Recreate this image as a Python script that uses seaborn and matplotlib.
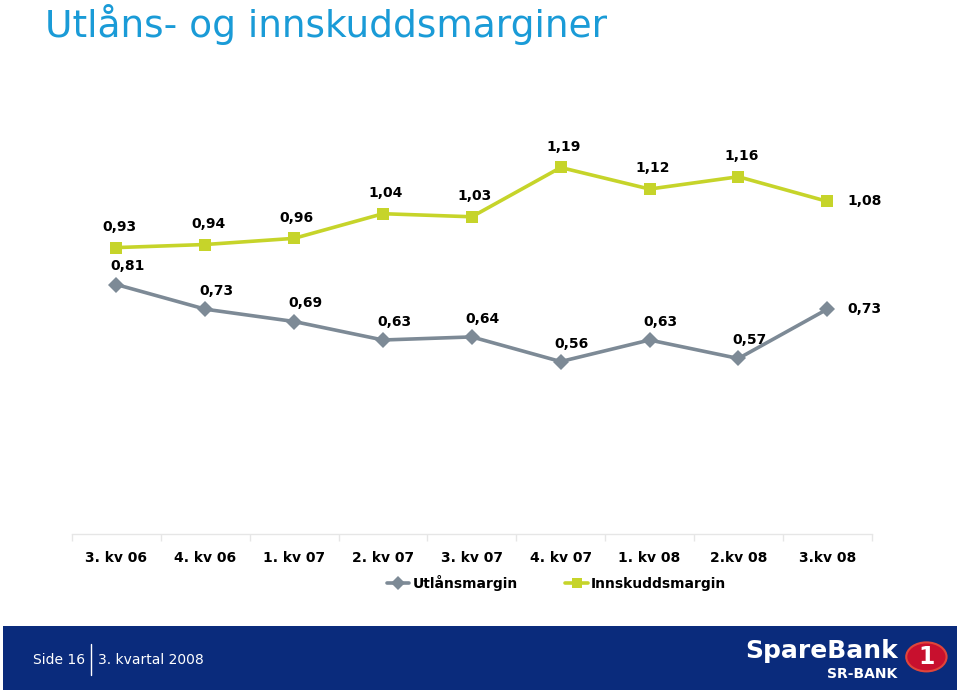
import matplotlib
matplotlib.use('Agg')
import matplotlib.pyplot as plt
import seaborn as sns
import pandas as pd
from matplotlib.patches import Rectangle, Circle
from matplotlib.lines import Line2D

# data
quarters = ['3. kv 06', '4. kv 06', '1. kv 07', '2. kv 07', '3. kv 07',
            '4. kv 07', '1. kv 08', '2.kv 08', '3.kv 08']
utlan = [0.81, 0.73, 0.69, 0.63, 0.64, 0.56, 0.63, 0.57, 0.73]
innskudd = [0.93, 0.94, 0.96, 1.04, 1.03, 1.19, 1.12, 1.16, 1.08]
series_names = ['Utlånsmargin', 'Innskuddsmargin']

gray = '#7d8a96'
lime = '#c6d42a'
navy = '#0a2b7c'
title_blue = '#1a9bd7'

df = pd.DataFrame({
    'kvartal': quarters * 2,
    'pos': list(range(len(quarters))) * 2,
    'margin': utlan + innskudd,
    'serie': [series_names[0]] * len(quarters) + [series_names[1]] * len(quarters),
})

sns.set_theme(style='white')
plt.rcParams['font.family'] = ['DejaVu Sans']
plt.rcParams['text.color'] = 'black'

fig = plt.figure(figsize=(9.6, 6.9), dpi=100)
ax = fig.add_axes([0.075, 0.226, 0.833, 0.625])

sns.lineplot(data=df, x='pos', y='margin', hue='serie', style='serie',
             palette=[gray, lime], markers=['D', 's'], dashes=False,
             markersize=8, markeredgewidth=0, linewidth=2.6, legend=False, ax=ax)

ax.set_xlim(-0.5, len(quarters) - 0.5)
ax.set_ylim(0, 1.4)
ax.set_xlabel('')
ax.set_ylabel('')
ax.set_yticks([])
ax.set_xticks(range(len(quarters)))
ax.set_xticklabels(quarters, fontsize=10, fontweight='bold', color='black')
ax.set_xticks([i - 0.5 for i in range(len(quarters) + 1)], minor=True)
ax.tick_params(axis='x', which='major', length=0, pad=12)
ax.tick_params(axis='x', which='minor', length=5, color='#e6e6e6', width=1, bottom=True)
for side in ['top', 'right', 'left']:
    ax.spines[side].set_visible(False)
ax.spines['bottom'].set_color('#e6e6e6')
ax.spines['bottom'].set_linewidth(1)

# value labels
def fmt(v):
    return f'{v:.2f}'.replace('.', ',')

n = len(quarters)
for i, v in enumerate(innskudd):
    off = (27, 0) if i == n - 1 else (2, 15)
    ax.annotate(fmt(v), (i, v), xytext=off, textcoords='offset points',
                ha='center', va='center', fontsize=10, fontweight='bold', color='black')
for i, v in enumerate(utlan):
    off = (27, 0) if i == n - 1 else (8, 13)
    ax.annotate(fmt(v), (i, v), xytext=off, textcoords='offset points',
                ha='center', va='center', fontsize=10, fontweight='bold', color='black')

# legend
handles = [Line2D([], [], color=gray, marker='D', markersize=7, lw=2.6, markeredgewidth=0),
           Line2D([], [], color=lime, marker='s', markersize=7, lw=2.6, markeredgewidth=0)]
leg = fig.legend(handles, series_names, loc='center', bbox_to_anchor=(0.58, 0.155),
                 ncol=2, frameon=False, handlelength=1.6, handletextpad=0.25,
                 columnspacing=3.4, prop={'weight': 'bold', 'size': 10})
for t in leg.get_texts():
    t.set_color('black')

# title
fig.text(0.047, 0.965, 'Utlåns- og innskuddsmarginer', fontsize=27,
         color=title_blue, ha='left', va='center')

# footer band
fig.patches.append(Rectangle((0.003, 0.0), 0.994, 0.093, transform=fig.transFigure,
                             facecolor=navy, edgecolor='none', zorder=0))
fig.text(0.034, 0.043, 'Side 16', color='white', fontsize=10, ha='left', va='center')
fig.lines.append(Line2D([0.095, 0.095], [0.022, 0.066], transform=fig.transFigure,
                        color='white', lw=1))
fig.text(0.102, 0.043, '3. kvartal 2008', color='white', fontsize=10, ha='left', va='center')
fig.text(0.935, 0.057, 'SpareBank', color='white', fontsize=18, fontweight='bold',
         ha='right', va='center')
fig.text(0.935, 0.023, 'SR-BANK', color='white', fontsize=10, fontweight='bold',
         ha='right', va='center')
fig.patches.append(Circle((0.965, 0.048), 0.021, transform=fig.transFigure,
                          facecolor='#c8102e', edgecolor='#e0453a', lw=1.5, zorder=2))
fig.text(0.965, 0.048, '1', color='white', fontsize=17, fontweight='bold',
         ha='center', va='center', zorder=3)

fig.savefig('out.png', dpi=100)
